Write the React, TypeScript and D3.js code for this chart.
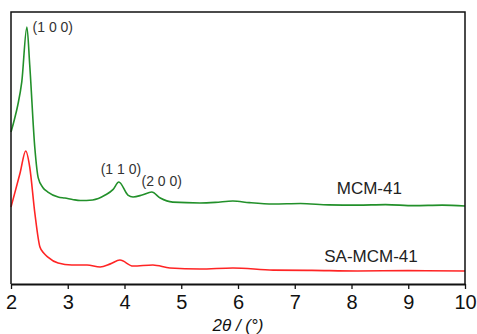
import * as d3 from 'd3';
import React, { useEffect, useRef } from 'react';

// 2theta positions (deg) and intensities (a.u.)
const mcmX = [2.0, 2.06, 2.12, 2.19, 2.28, 2.33, 2.42, 2.48, 2.56, 2.65, 2.83, 2.95, 3.1, 3.22, 3.44, 3.66, 3.8, 3.9, 4.06, 4.15, 4.31, 4.48, 4.63, 4.85, 5.33, 5.6, 5.91, 6.2, 6.62, 7.1, 7.6, 8.1, 8.6, 9.1, 9.6, 10.0];
const mcmY = [55.9, 60.5, 65.8, 74.3, 94.5, 80.5, 50, 39, 35.5, 33.8, 32, 31.6, 31.0, 30.7, 30.9, 32.7, 34.8, 37.5, 32.7, 32, 32.7, 33.8, 31.6, 30.1, 29.8, 30.0, 30.5, 29.9, 29.4, 29.6, 29.1, 29.0, 29.2, 28.8, 29.0, 28.7];

const saX = [2.0, 2.08, 2.16, 2.26, 2.33, 2.42, 2.51, 2.58, 2.65, 2.83, 3.07, 3.34, 3.57, 3.75, 3.92, 4.15, 4.5, 4.8, 5.33, 5.91, 6.62, 7.3, 8.1, 9.0, 10.0];
const saY = [28.3, 34.5, 40.8, 48.9, 43, 26.1, 13.6, 11.3, 9.9, 7.7, 7, 7, 6.25, 7.4, 8.8, 6.6, 7, 5.9, 5.5, 5.9, 5.1, 5.0, 4.8, 4.9, 4.8];

const xTicks = [2, 3, 4, 5, 6, 7, 8, 9, 10];

const peakLabels = [
  { text: '(1 0 0)', x: 2.38, y: 92.5 },
  { text: '(1 1 0)', x: 3.58, y: 40.5 },
  { text: '(2 0 0)', x: 4.3, y: 36 },
];

const seriesLabels = [
  { text: 'MCM-41', x: 7.74, y: 33 },
  { text: 'SA-MCM-41', x: 7.52, y: 8 },
];

const App = () => {
  const ref = useRef(null);
  const width = 477;
  const height = 334;
  const margin = { top: 12, right: 12, bottom: 50, left: 11 };

  useEffect(() => {
    const svg = d3.select(ref.current);
    svg.selectAll('*').remove();

    const w = width - margin.left - margin.right;
    const h = height - margin.top - margin.bottom;

    const x = d3.scaleLinear().domain([2, 10]).range([0, w]);
    const y = d3.scaleLinear().domain([0, 100]).range([h, 0]);

    const g = svg.append('g')
      .attr('transform', 'translate(' + margin.left + ',' + margin.top + ')');

    const line = d3.line()
      .x(d => x(d[0]))
      .y(d => y(d[1]))
      .curve(d3.curveMonotoneX);

    g.append('path')
      .datum(mcmX.map((v, i) => [v, mcmY[i]]))
      .attr('d', line)
      .attr('fill', 'none')
      .attr('stroke', '#22902a')
      .attr('stroke-width', 1.6);

    g.append('path')
      .datum(saX.map((v, i) => [v, saY[i]]))
      .attr('d', line)
      .attr('fill', 'none')
      .attr('stroke', '#ff2424')
      .attr('stroke-width', 1.6);

    // frame (left, top, right)
    g.append('path')
      .attr('d', 'M0,' + h + 'V0H' + w + 'V' + h)
      .attr('fill', 'none')
      .attr('stroke', '#111')
      .attr('stroke-width', 1.5);

    // bottom axis
    const xAxis = g.append('g')
      .attr('transform', 'translate(0,' + h + ')')
      .call(d3.axisBottom(x).tickValues(xTicks).tickSize(5).tickPadding(6).tickSizeOuter(0));
    xAxis.select('.domain').attr('stroke', '#111').attr('stroke-width', 1.8);
    xAxis.selectAll('line').attr('stroke', '#111').attr('stroke-width', 1.3);
    xAxis.selectAll('text')
      .attr('fill', '#111')
      .style('font-family', '"Liberation Sans", Arial, sans-serif')
      .style('font-size', '20px');

    g.selectAll('.peak')
      .data(peakLabels)
      .enter()
      .append('text')
      .attr('x', d => x(d.x))
      .attr('y', d => y(d.y))
      .attr('fill', '#333')
      .style('font-family', '"Liberation Sans", Arial, sans-serif')
      .style('font-size', '14px')
      .text(d => d.text);

    g.selectAll('.series')
      .data(seriesLabels)
      .enter()
      .append('text')
      .attr('x', d => x(d.x))
      .attr('y', d => y(d.y))
      .attr('fill', '#222')
      .style('font-family', '"Liberation Sans", Arial, sans-serif')
      .style('font-size', '17px')
      .text(d => d.text);

    svg.append('text')
      .attr('x', margin.left + w / 2)
      .attr('y', 331)
      .attr('text-anchor', 'middle')
      .attr('fill', '#111')
      .style('font-family', '"Liberation Sans", Arial, sans-serif')
      .style('font-size', '17px')
      .style('font-style', 'italic')
      .text('2θ / (°)');
  }, []);

  return (
    <div style={{ position: 'absolute', left: 0, top: 0 }}>
      <svg ref={ref} width={width} height={height} style={{ display: 'block', background: '#fff' }}></svg>
    </div>
  );
};

export default App;
